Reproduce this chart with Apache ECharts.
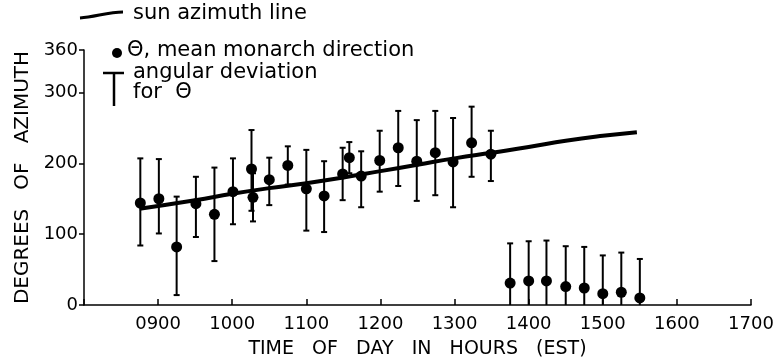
<!DOCTYPE html>
<html>
<head>
<meta charset="utf-8">
<script src="https://cdn.jsdelivr.net/npm/echarts@6/dist/echarts.min.js"></script>
<style>
  html, body { margin: 0; padding: 0; background: #fff; }
  #chart { width: 779px; height: 364px; }
</style>
</head>
<body>
<div id="chart"></div>
<script>
// time of day in decimal hours
var hours = [8.76, 9.01, 9.25, 9.51, 9.76, 10.01, 10.26, 10.28, 10.5, 10.75,
             11.0, 11.24, 11.49, 11.58, 11.74, 11.99, 12.24, 12.49, 12.74, 12.98,
             13.23, 13.49, 13.75, 14.0, 14.24, 14.5, 14.75, 15.0, 15.25, 15.5];
// mean monarch direction (theta)
var meanDir = [144, 150, 82, 143, 128, 160, 192, 152, 177, 197,
               164, 154, 185, 208, 182, 204, 222, 203, 215, 202,
               229, 213, 31, 34, 34, 26, 24, 16, 18, 10];
// angular deviation, upper / lower ends
var devTop = [207, 206, 153, 181, 194, 207, 247, 186, 208, 224,
              219, 203, 222, 230, 217, 246, 274, 261, 274, 264,
              280, 246, 87, 90, 91, 83, 82, 70, 74, 65];
var devBottom = [84, 101, 14, 96, 62, 114, 133, 118, 141, 170,
                 105, 103, 148, 186, 138, 160, 168, 147, 155, 138,
                 181, 175, 0, 0, 0, 0, 0, 0, 0, 0];
// sun azimuth line
var sunHours = [8.75, 9.5, 10, 10.5, 11, 11.5, 12, 12.5, 13, 13.5, 14, 14.5, 15, 15.46];
var sunAz = [136, 148, 157, 165, 172, 180, 189, 198, 207, 215, 223, 232, 239, 244];

var yTicks = [0, 100, 200, 300, 360];

var font = 'DejaVu Sans';

var barData = [], ptData = [], sunData = [];
for (var i = 0; i < hours.length; i++) {
    barData.push([hours[i], devTop[i], devBottom[i]]);
    ptData.push([hours[i], meanDir[i]]);
}
for (var j = 0; j < sunHours.length; j++) {
    sunData.push([sunHours[j], sunAz[j]]);
}

function renderBar(params, api) {
    var x = api.value(0);
    var top = api.coord([x, api.value(1)]);
    var bot = api.coord([x, api.value(2)]);
    var w = 3;
    var st = { stroke: '#000', lineWidth: 2 };
    var kids = [
        { type: 'line', shape: { x1: top[0], y1: top[1], x2: bot[0], y2: bot[1] }, style: st },
        { type: 'line', shape: { x1: top[0] - w, y1: top[1], x2: top[0] + w, y2: top[1] }, style: st }
    ];
    if (api.value(2) > 0) {
        kids.push({ type: 'line', shape: { x1: bot[0] - w, y1: bot[1], x2: bot[0] + w, y2: bot[1] }, style: st });
    }
    return { type: 'group', children: kids };
}

var option = {
    animation: false,
    grid: { left: 84, right: 28, top: 50, bottom: 55 },
    xAxis: {
        type: 'value',
        min: 8, max: 17, interval: 1,
        axisLine: { lineStyle: { color: '#000', width: 1.5 } },
        axisTick: { inside: true, length: 6, lineStyle: { color: '#000', width: 1.5 } },
        splitLine: { show: false },
        axisLabel: {
            color: '#000', fontFamily: font, fontSize: 18, margin: 10,
            formatter: function (v) {
                if (v === 8) return '';
                var s = String(v * 100);
                return s.length < 4 ? '0' + s : s;
            }
        },
        name: 'TIME   OF   DAY   IN   HOURS   (EST)',
        nameLocation: 'middle', nameGap: 35,
        nameTextStyle: { color: '#000', fontFamily: font, fontSize: 19 }
    },
    yAxis: {
        type: 'value',
        min: 0, max: 360, interval: 100,
        axisLine: { show: true, lineStyle: { color: '#000', width: 1.5 } },
        axisTick: { show: true, length: 5, lineStyle: { color: '#000', width: 1.5 } },
        splitLine: { show: false },
        axisLabel: {
            color: '#000', fontFamily: font, fontSize: 18, margin: 6,
            customValues: yTicks
        },
        name: 'DEGREES   OF   AZIMUTH',
        nameLocation: 'middle', nameGap: 51,
        nameTextStyle: { color: '#000', fontFamily: font, fontSize: 20 }
    },
    series: [
        {
            type: 'line', data: sunData, smooth: true, showSymbol: false,
            lineStyle: { color: '#000', width: 4 }, z: 3
        },
        {
            type: 'custom', data: barData, renderItem: renderBar,
            encode: { x: 0, y: [1, 2] }, z: 2
        },
        {
            type: 'scatter', data: ptData, symbolSize: 11,
            itemStyle: { color: '#000', opacity: 1 }, z: 4
        }
    ],
    graphic: [
        { type: 'bezierCurve', shape: { x1: 80, y1: 18, x2: 123, y2: 12, cpx1: 95, cpy1: 17, cpx2: 108, cpy2: 12 },
          style: { stroke: '#000', lineWidth: 3, fill: null } },
        { type: 'text', left: 133, top: 3, style: { text: 'sun azimuth line', fontFamily: font, fontSize: 21, fill: '#000' } },
        { type: 'circle', shape: { cx: 117, cy: 53, r: 5 }, style: { fill: '#000' } },
        { type: 'text', left: 127, top: 40, style: { text: 'Θ, mean monarch direction', fontFamily: font, fontSize: 21, fill: '#000' } },
        { type: 'line', shape: { x1: 103, y1: 73, x2: 124, y2: 73 }, style: { stroke: '#000', lineWidth: 2.5 } },
        { type: 'line', shape: { x1: 114, y1: 73, x2: 114, y2: 106 }, style: { stroke: '#000', lineWidth: 2.5 } },
        { type: 'text', left: 133, top: 62, style: { text: 'angular deviation', fontFamily: font, fontSize: 21, fill: '#000' } },
        { type: 'text', left: 133, top: 82, style: { text: 'for  Θ', fontFamily: font, fontSize: 21, fill: '#000' } }
    ]
};

var myChart = echarts.init(document.getElementById('chart'));
myChart.setOption(option);
</script>
</body>
</html>
